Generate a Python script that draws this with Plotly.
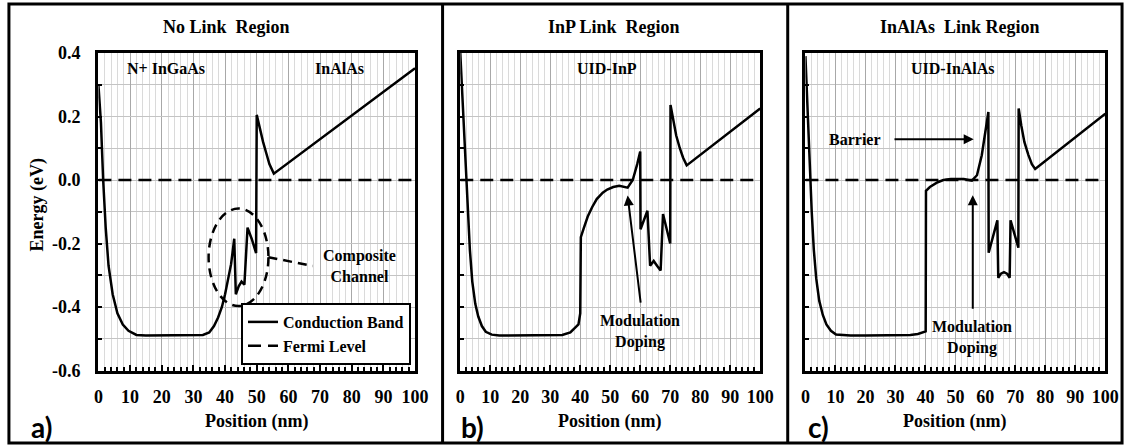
import plotly.graph_objects as go

# ---------------- data ----------------
x_a = [0, 0.8, 1.5, 2.3, 3.2, 4.5, 6, 7.7, 9.5, 12, 15, 20, 25, 30, 33, 35, 36.5, 37.8, 39, 40, 41,
       41.9, 42.9, 43.4, 44.3, 45.2, 46.1, 47.1, 48.4, 49.8, 50.0, 51, 52, 53, 54, 55.4, 100]
e_a = [0.30, 0.18, 0.0, -0.15, -0.27, -0.36, -0.42, -0.455, -0.475, -0.488, -0.49, -0.49, -0.49, -0.49,
       -0.488, -0.48, -0.46, -0.433, -0.40, -0.36, -0.31, -0.265, -0.185, -0.36, -0.335, -0.32, -0.33,
       -0.15, -0.185, -0.23, 0.205, 0.16, 0.12, 0.085, 0.05, 0.02, 0.352]

x_b = [0, 0.8, 1.6, 2.4, 3.2, 4.0, 5.0, 6.0, 7.2, 8.5, 10.5, 13, 15, 20, 30, 34, 36.7, 38.5, 39.4,
       40.0, 40.2, 41.1, 42.5, 44, 45.5, 47.5, 49, 51, 53, 55.8, 57.5, 59, 60.0, 60.1, 62.4, 63.3, 64.5,
       65.6, 66.8, 67.6, 70.0, 70.1, 71, 72, 73.2, 74.3, 75.5, 100]
e_b = [0.40, 0.25, 0.08, -0.08, -0.22, -0.32, -0.39, -0.43, -0.46, -0.478, -0.487, -0.49, -0.49, -0.49,
       -0.49, -0.488, -0.48, -0.465, -0.455, -0.42, -0.18, -0.154, -0.115, -0.085, -0.06, -0.04, -0.03,
       -0.022, -0.018, -0.024, 0.0, 0.05, 0.09, -0.155, -0.097, -0.27, -0.255, -0.27, -0.285, -0.107,
       -0.20, 0.236, 0.19, 0.14, 0.10, 0.07, 0.046, 0.225]

x_c = [0, 0.7, 1.4, 2.1, 2.8, 3.6, 4.6, 5.8, 7.0, 8.5, 10.2, 13, 15, 20, 30, 35, 37.5, 39, 40.1, 40.2,
       41.5, 44.1, 46, 48.5, 52.8, 55.5, 57.2, 58.8, 59.9, 61.0, 61.1, 64.0, 64.3, 65.2, 66.2, 67.2, 68.1,
       68.4, 71.0, 71.1, 72, 73, 74.3, 75.5, 76.6, 100]
e_c = [0.39, 0.22, 0.05, -0.10, -0.22, -0.31, -0.38, -0.425, -0.455, -0.475, -0.487, -0.49, -0.49, -0.49,
       -0.49, -0.488, -0.485, -0.48, -0.477, -0.034, -0.022, -0.007, 0.0, 0.003, 0.003, -0.002, 0.015,
       0.078, 0.14, 0.214, -0.229, -0.127, -0.308, -0.295, -0.29, -0.295, -0.308, -0.127, -0.213, 0.225,
       0.17, 0.12, 0.08, 0.05, 0.035, 0.209]

fermi_x = [0, 100]
fermi_e = [0.0, 0.0]

panel_titles = ["No Link  Region", "InP Link  Region", "InAlAs  Link Region"]
panel_letters = ["a)", "b)", "c)"]
x_ticks = [0, 10, 20, 30, 40, 50, 60, 70, 80, 90, 100]
y_ticks = [-0.6, -0.4, -0.2, 0.0, 0.2, 0.4]
y_tick_text = ["-0.6", "-0.4", "-0.2", "0.0", "0.2", "0.4"]

# ---------------- layout ----------------
W, H = 1139, 445
SERIF = "Liberation Serif"

def F(size, fam=SERIF):
    return dict(family=fam, size=size, color="black")

def B(t):
    return "<b>" + t + "</b>"

def px(v):
    return v / W

def py(v):
    return 1 - v / H

domains = [(95, 417), (463, 768), (814, 1119)]
ydom = [py(370.5), py(53)]

fig = go.Figure()
curves = [(x_a, e_a), (x_b, e_b), (x_c, e_c)]
for i, (xs, es) in enumerate(curves):
    ax = "x" if i == 0 else f"x{i+1}"
    ay = "y" if i == 0 else f"y{i+1}"
    fig.add_trace(go.Scatter(x=xs, y=es, mode="lines", xaxis=ax, yaxis=ay,
                             line=dict(color="black", width=2.5),
                             name=B("Conduction Band"), showlegend=(i == 0)))
for i in range(3):
    ax = "x" if i == 0 else f"x{i+1}"
    ay = "y" if i == 0 else f"y{i+1}"
    fig.add_trace(go.Scatter(x=fermi_x, y=fermi_e, mode="lines", xaxis=ax, yaxis=ay,
                             line=dict(color="black", width=2.5, dash="13px,7px"),
                             name=B("Fermi Level"), showlegend=(i == 0)))

layout = dict(
    width=W, height=H, margin=dict(l=0, r=0, t=0, b=0),
    paper_bgcolor="white", plot_bgcolor="white",
    font=F(18),
    legend=dict(x=px(240), y=py(303), xanchor="left", yanchor="top",
                bgcolor="white", bordercolor="black", borderwidth=2,
                font=F(16), tracegroupgap=0, itemwidth=30),
    showlegend=True,
)

for i, (l, r) in enumerate(domains):
    xk = "xaxis" if i == 0 else f"xaxis{i+1}"
    yk = "yaxis" if i == 0 else f"yaxis{i+1}"
    anchor_y = "y" if i == 0 else f"y{i+1}"
    anchor_x = "x" if i == 0 else f"x{i+1}"
    layout[xk] = dict(
        domain=[px(l), px(r)], range=[0, 100], anchor=anchor_y,
        tickvals=x_ticks, ticktext=[B(str(v)) for v in x_ticks],
        ticks="inside", ticklen=6, tickwidth=1.5, tickcolor="black",
        showline=True, linecolor="black", linewidth=3, mirror=True,
        showgrid=True, gridcolor="#a8a8a8", gridwidth=1, zeroline=False,
        minor=dict(dtick=2, showgrid=True, gridcolor="#dadada", gridwidth=1,
                   ticks="inside", ticklen=4, tickwidth=1.5, tickcolor="black"),
        tickfont=F(18),
        ticklabelstandoff=8,
    )
    layout[yk] = dict(
        domain=ydom, range=[-0.6, 0.4], anchor=anchor_x,
        tickvals=y_ticks, showticklabels=False,
        ticks="inside", ticklen=4, tickwidth=1.5, tickcolor="black",
        showline=True, linecolor="black", linewidth=3, mirror=True,
        showgrid=True, gridcolor="#c4c4c4", gridwidth=1, zeroline=False,
        minor=dict(dtick=0.1, showgrid=True, gridcolor="#c4c4c4", gridwidth=1,
                   ticks="inside", ticklen=4, tickwidth=1.5, tickcolor="black"),
    )

fig.update_layout(**layout)

# ---------------- frame ----------------
shapes = [
    dict(type="rect", xref="paper", yref="paper", x0=px(4), x1=px(1136), y0=py(443), y1=py(4),
         line=dict(color="black", width=3)),
    dict(type="line", xref="paper", yref="paper", x0=px(445), x1=px(445), y0=py(443), y1=py(4),
         line=dict(color="black", width=3)),
    dict(type="line", xref="paper", yref="paper", x0=px(796), x1=px(796), y0=py(443), y1=py(4),
         line=dict(color="black", width=3)),
    dict(type="circle", xref="x", yref="y", x0=34.8, x1=53.7, y0=-0.397, y1=-0.09,
         line=dict(color="black", width=2.5, dash="9px,6px")),
    dict(type="line", xref="x", yref="y", x0=53.7, x1=67.7, y0=-0.243, y1=-0.271,
         line=dict(color="black", width=2.5, dash="9px,6px")),
]
fig.update_layout(shapes=shapes)

ann = []
# y tick labels of panel a, placed next to the axis
for v, t in zip(y_ticks, y_tick_text):
    ann.append(dict(text=B(t), xref="paper", yref="y", x=px(79), y=v, showarrow=False,
                    xanchor="right", yanchor="middle", font=F(18)))

title_cx = [225, 619, 971]
axis_cx = [256, 615, 966]
letter_cx = [37, 475, 827]
for i in range(3):
    ann.append(dict(text=B(panel_titles[i]), xref="paper", yref="paper", x=px(title_cx[i]), y=py(27),
                    showarrow=False, xanchor="center", yanchor="middle", font=F(18)))
    ann.append(dict(text=B("Position (nm)"), xref="paper", yref="paper", x=px(axis_cx[i]), y=py(421),
                    showarrow=False, xanchor="center", yanchor="middle", font=F(18)))
    ann.append(dict(text=B(panel_letters[i]), xref="paper", yref="paper", x=px(letter_cx[i]), y=py(427),
                    showarrow=False, xanchor="center", yanchor="middle",
                    font=dict(family="Lato", size=28, color="black")))

ann.append(dict(text=B("Energy (eV)"), xref="paper", yref="paper", x=px(33), y=py(205), textangle=-90,
                showarrow=False, xanchor="center", yanchor="middle", font=F(18)))

def txt(t, xr, yr, x, y, size=16):
    return dict(text=B(t), xref=xr, yref=yr, x=x, y=y, showarrow=False, xanchor="center",
                yanchor="middle", font=F(size))

ann += [
    txt("N+ InGaAs", "x", "y", 21.4, 0.352),
    txt("InAlAs", "x", "y", 76, 0.352),
    txt("Composite<br>Channel", "x", "y", 82.6, -0.271),
    txt("UID-InP", "x2", "y2", 49, 0.352),
    txt("Modulation<br>Doping", "x2", "y2", 59.9, -0.477),
    txt("UID-InAlAs", "x3", "y3", 49.2, 0.352),
    txt("Barrier", "x3", "y3", 16.6, 0.128),
    txt("Modulation<br>Doping", "x3", "y3", 55.6, -0.495),
]

def arrow(xr, yr, hx, hy, tx, ty):
    return dict(text="", xref=xr, yref=yr, x=hx, y=hy, ax=tx, ay=ty, axref=xr, ayref=yr,
                showarrow=True, arrowhead=2, arrowsize=1, arrowwidth=2, arrowcolor="black")

ann += [
    arrow("x2", "y2", 55.8, -0.049, 60.2, -0.391),
    arrow("x3", "y3", 56.1, 0.128, 29.2, 0.128),
    arrow("x3", "y3", 55.8, -0.048, 55.8, -0.41),
]
fig.update_layout(annotations=ann)

fig.write_html("out.html")
